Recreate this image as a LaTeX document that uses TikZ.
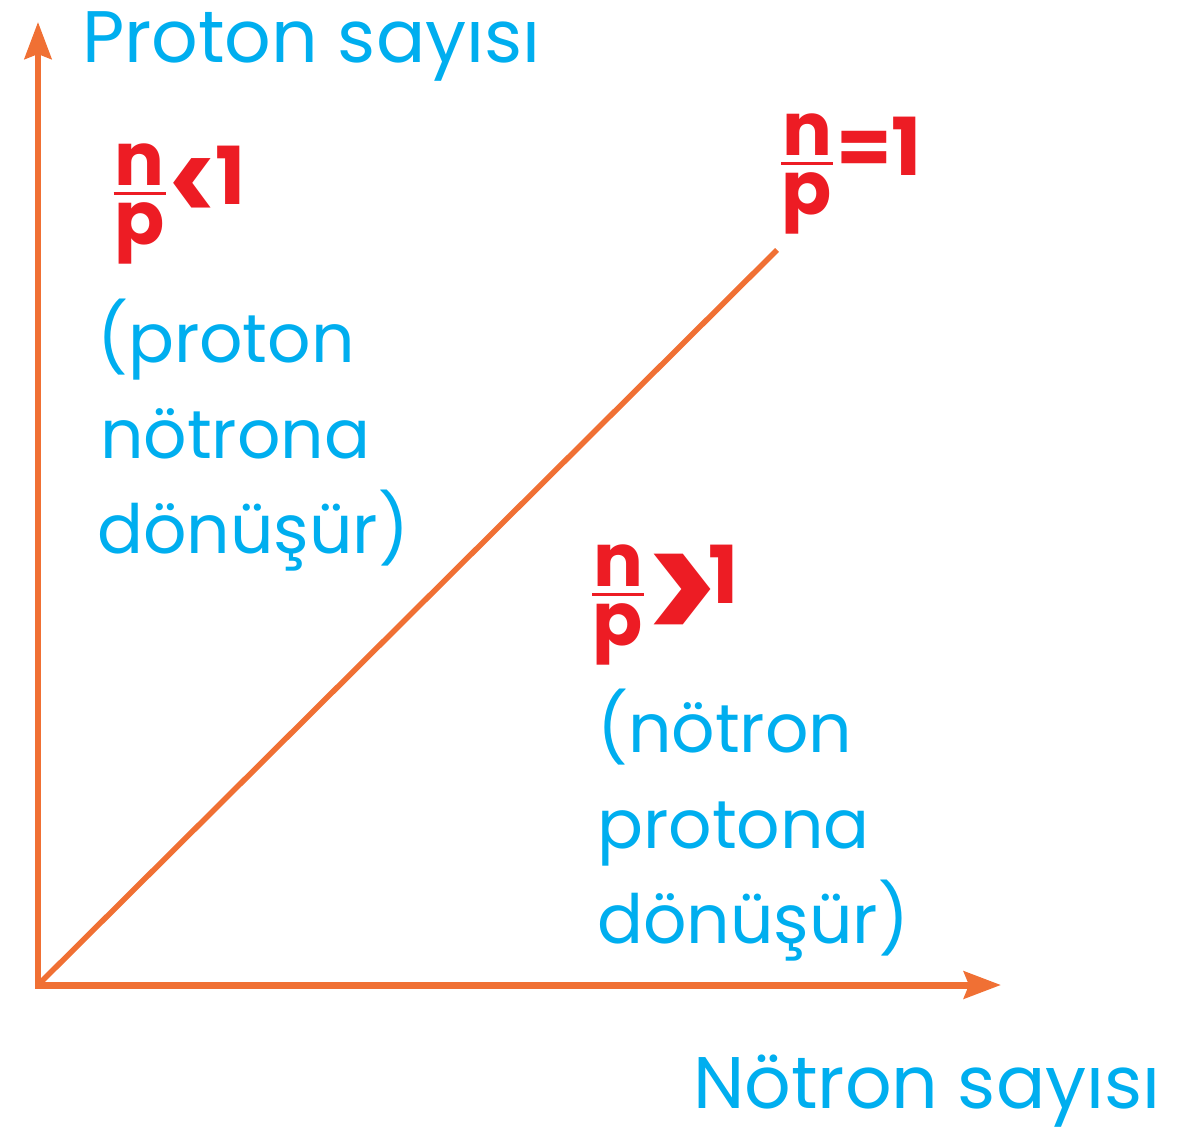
\documentclass[tikz,border=0pt]{standalone}
\usepackage{fontspec}
\usepackage{graphicx}
\setmainfont{Poppins}
\usetikzlibrary{arrows.meta}
\definecolor{axisor}{RGB}{240,112,52}
\definecolor{txtblue}{RGB}{0,174,239}
\definecolor{txtred}{RGB}{237,28,36}
\newcommand{\rfrac}[2]{\vbox{\hbox to 52pt{\hss#1\hss}\kern7pt\hrule height 3pt\kern7pt\hbox to 52pt{\hss#2\hss}}}
\newcommand{\bigrel}[4]{\raisebox{#3}{\scalebox{#2}[1]{\fontsize{#4}{#4}\selectfont#1}}}
\tikzset{
  axisline/.style={draw=axisor, line width=#1, -{Stealth[length=37pt,width=27pt,inset=5pt]}},
  diag/.style={draw=axisor, line width=5.5pt},
  bluetxt/.style={text=txtblue, inner sep=0pt, anchor=base west, font=\fontsize{68}{80}\selectfont},
  axislab/.style={bluetxt, font=\fontsize{73}{80}\selectfont},
  redfrac/.style={text=txtred, inner sep=0pt, anchor=base, font=\bfseries\fontsize{74}{80}\selectfont},
  redrel/.style={text=txtred, inner sep=0pt, anchor=base west, font=\bfseries\fontsize{80}{80}\selectfont},
}
\begin{document}
\begin{tikzpicture}[x=1pt,y=-1pt]
\useasboundingbox (0,0) rectangle (1198,1132);
% axes
\coordinate (O) at (38,985);
\coordinate (ytip) at (38,22);
\coordinate (xstart) at (35,985);
\coordinate (xtip) at (1001,985);
\coordinate (dend) at (777,250);
\draw[axisline=6pt] (O) -- (ytip);
\draw[axisline=7pt] (xstart) -- (xtip);
\draw[diag] (O) -- (dend);
% axis labels
\node[axislab] (ylab) at (82,63) {Proton sayısı};
\node[axislab] (xlab) at (693,1108) {Nötron sayısı};
% n/p<1
\node[redfrac] (f1) at (139.5,244) {\rfrac{n}{p}};
\node[redrel] (r1) at (168,204) {\bigrel{<}{0.8}{-18pt}{112}\kern-2pt 1};
\node[bluetxt] (a1) at (97,362) {(proton};
\node[bluetxt] (a2) at (100,458) {nötrona};
\node[bluetxt] (a3) at (97,553) {dönüşür)};
% n/p=1
\node[redfrac] (f2) at (807,214) {\rfrac{n}{p}};
\node[redrel] (r2) at (836,175) {=1};
% n/p>1
\node[redfrac] (f3) at (618,645) {\rfrac{n}{p}};
\node[redrel] (r3) at (645,603) {\bigrel{>}{0.85}{-42pt}{160}\kern-10pt 1};
\node[bluetxt] (b1) at (597,752) {(nötron};
\node[bluetxt] (b2) at (597,848) {protona};
\node[bluetxt] (b3) at (597,943) {dönüşür)};
\end{tikzpicture}
\end{document}
